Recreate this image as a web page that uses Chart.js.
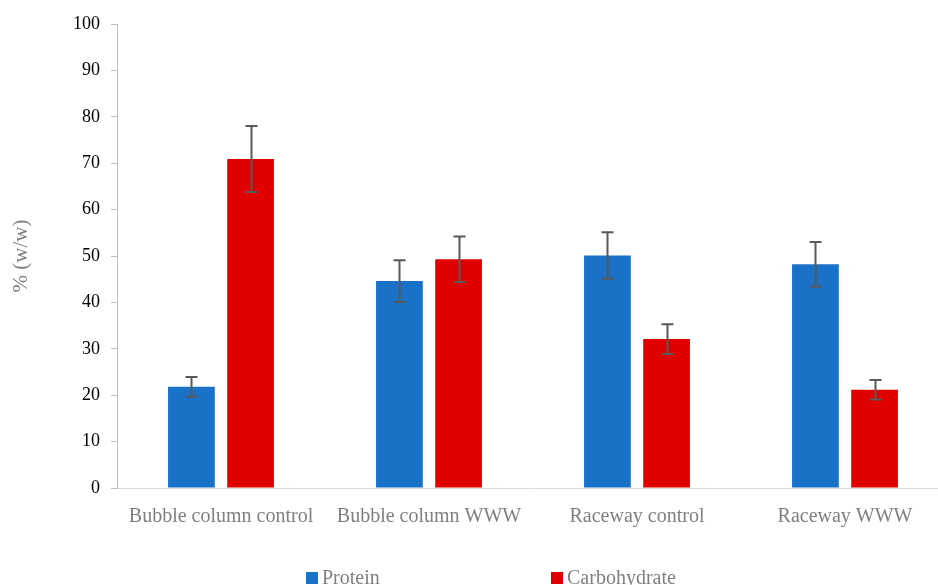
<!DOCTYPE html>
<html>
<head>
<meta charset="utf-8">
<script src="https://cdn.jsdelivr.net/npm/chart.js@4.4.1/dist/chart.umd.min.js"></script>
<style>
  html, body { margin: 0; padding: 0; background: #ffffff; overflow: hidden; }
  #wrap { position: relative; width: 949px; height: 585px; }
</style>
</head>
<body>
<div id="wrap"><canvas id="chart"></canvas></div>
<script>
// Composition of the biomass, % (w/w), mean ± standard deviation
const categories = ['Bubble column control', 'Bubble column WWW', 'Raceway control', 'Raceway WWW'];
const proteinValues = [21.8, 44.6, 50.1, 48.2];
const proteinErrors = [2.1, 4.5, 5.0, 4.8];
const carbohydrateValues = [70.9, 49.3, 32.1, 21.2];
const carbohydrateErrors = [7.1, 4.9, 3.2, 2.1];
const yTickValues = [0, 10, 20, 30, 40, 50, 60, 70, 80, 90, 100];

const SERIF = '"Liberation Serif", "Times New Roman", serif';

// Vertical error bars with caps, positioned through the bar elements and the y scale
const errorBarPlugin = {
  id: 'errorBars',
  afterDatasetsDraw(chart, args, opts) {
    const ctx = chart.ctx;
    const yScale = chart.scales.y;
    ctx.save();
    ctx.strokeStyle = opts.color;
    ctx.lineWidth = opts.width;
    chart.data.datasets.forEach((ds, i) => {
      const errs = opts.errors[i];
      chart.getDatasetMeta(i).data.forEach((bar, j) => {
        const v = ds.data[j], e = errs[j];
        const x = Math.round(bar.x) + 0.5;
        const top = yScale.getPixelForValue(v + e);
        const bot = yScale.getPixelForValue(v - e);
        ctx.beginPath();
        ctx.moveTo(x, top); ctx.lineTo(x, bot);
        ctx.moveTo(x - opts.cap, top); ctx.lineTo(x + opts.cap, top);
        ctx.moveTo(x - opts.cap, bot); ctx.lineTo(x + opts.cap, bot);
        ctx.stroke();
      });
    });
    ctx.restore();
  }
};

// Legend along the bottom edge, items spread apart
const bottomLegendPlugin = {
  id: 'bottomLegend',
  afterDraw(chart, args, opts) {
    const ctx = chart.ctx;
    ctx.save();
    ctx.font = opts.font;
    ctx.textBaseline = 'alphabetic';
    ctx.textAlign = 'left';
    chart.data.datasets.forEach((ds, i) => {
      const x = opts.positions[i];
      ctx.fillStyle = ds.backgroundColor;
      ctx.fillRect(x, opts.boxTop, opts.boxSize, opts.boxSize);
      ctx.fillStyle = opts.color;
      ctx.fillText(ds.label, x + opts.boxSize + 4, opts.baseline);
    });
    ctx.restore();
  }
};

new Chart(document.getElementById('chart'), {
  type: 'bar',
  data: {
    labels: categories,
    datasets: [
      { label: 'Protein', data: proteinValues, backgroundColor: '#1a71c8' },
      { label: 'Carbohydrate', data: carbohydrateValues, backgroundColor: '#df0000' }
    ]
  },
  options: {
    responsive: true,
    maintainAspectRatio: false,
    animation: false,
    layout: { padding: { top: 24, right: 0, bottom: 0, left: 0 } },
    datasets: { bar: { categoryPercentage: 0.569, barPercentage: 0.79 } },
    plugins: {
      legend: { display: false },
      tooltip: { enabled: false },
      errorBars: {
        errors: [proteinErrors, carbohydrateErrors],
        color: '#595959', width: 2, cap: 6
      },
      bottomLegend: {
        positions: [306, 551], boxTop: 572, boxSize: 12, baseline: 584,
        font: '20px ' + SERIF, color: '#7f7f7f'
      }
    },
    scales: {
      x: {
        grid: { display: false, drawTicks: false },
        border: { display: true, color: '#d9d9d9', width: 1 },
        ticks: { color: '#7f7f7f', font: { family: SERIF, size: 20 }, padding: 17, maxRotation: 0, autoSkip: false },
        afterFit(scale) { scale.height = 97; }
      },
      y: {
        min: 0, max: 100,
        afterBuildTicks(scale) { scale.ticks = yTickValues.map(v => ({ value: v })); },
        grid: { drawOnChartArea: false, drawTicks: true, tickLength: 6, color: '#bfbfbf' },
        border: { display: true, color: '#bfbfbf', width: 1 },
        ticks: { color: '#000000', font: { family: SERIF, size: 18 }, padding: 11 },
        title: {
          display: true, text: '% (w/w)', color: '#7f7f7f',
          font: { family: SERIF, size: 21, lineHeight: 2.0 }, padding: 0
        },
        afterFit(scale) { scale.width = 117; }
      }
    }
  },
  plugins: [errorBarPlugin, bottomLegendPlugin]
});
</script>
</body>
</html>
